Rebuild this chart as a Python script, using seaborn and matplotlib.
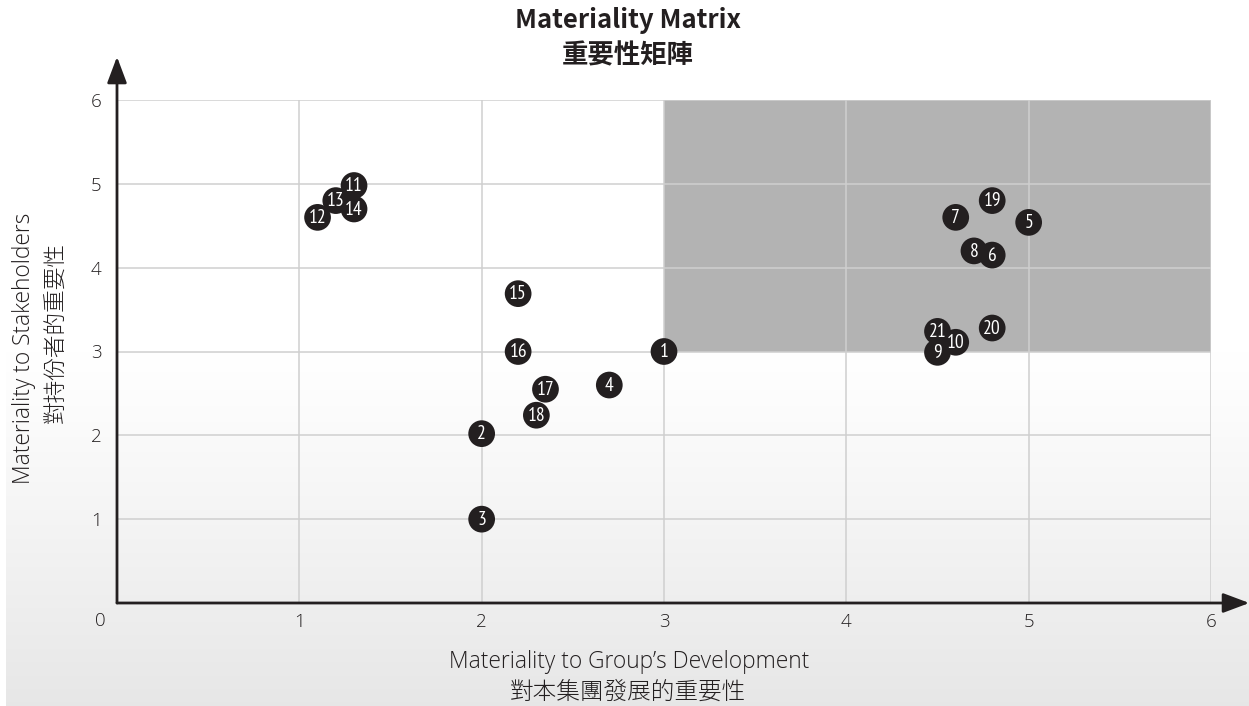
import numpy as np
import pandas as pd
import seaborn as sns
import matplotlib.pyplot as plt
from matplotlib.patches import Rectangle, FancyBboxPatch

issue_ids = [1, 2, 3, 4, 5, 6, 7, 8, 9, 10, 11, 12, 13, 14, 15, 16, 17, 18, 19, 20, 21]
group_dev = [3.0, 2.0, 2.0, 2.7, 5.0, 4.8, 4.6, 4.7, 4.5, 4.6, 1.3, 1.1, 1.2, 1.3,
             2.2, 2.2, 2.35, 2.3, 4.8, 4.8, 4.5]
stakeholders = [3.0, 2.02, 1.0, 2.6, 4.54, 4.15, 4.6, 4.2, 2.99, 3.11, 4.98, 4.6, 4.8, 4.7,
                3.69, 3.0, 2.55, 2.24, 4.8, 3.28, 3.24]
# draw order so the overlaps look like the original
draw_order = [1, 2, 3, 4, 5, 7, 8, 6, 19, 20, 21, 9, 10, 11, 13, 12, 14, 15, 16, 17, 18]
tick_vals = [1, 2, 3, 4, 5, 6]

DARK = "#231f20"
LATIN = ["Open Sans", "Noto Sans", "DejaVu Sans"]
CJK = ["Noto Sans CJK JP", "DejaVu Sans"]

sns.set_style("white")
plt.rcParams["font.family"] = CJK

df = pd.DataFrame({"id": issue_ids, "dev": group_dev, "stake": stakeholders})
df = df.set_index("id").loc[draw_order].reset_index()

W, H = 1249, 706
fig = plt.figure(figsize=(W / 100, H / 100), dpi=100)
fig.patch.set_facecolor("white")

# rounded panel with a soft grey gradient towards the bottom
bg = fig.add_axes([0, 0, 1, 1], zorder=-5)
bg.axis("off")
grad = np.linspace(0, 1, 400)
shade = np.clip((grad - 0.50) / 0.50, 0, 1) ** 1.1
img = np.ones((400, 2, 3)) * (1 - 0.095 * shade)[:, None, None]
im = bg.imshow(img, extent=[6, W, 0, H], origin="upper", aspect="auto")
panel = FancyBboxPatch((6, -40), W - 6, H + 20, boxstyle="round,pad=0,rounding_size=24",
                       transform=bg.transData, facecolor="none", edgecolor="none")
bg.add_patch(panel)
im.set_clip_path(panel)
bg.set_xlim(0, W)
bg.set_ylim(0, H)

ax = fig.add_axes([117 / W, (H - 603) / H, (1211 - 117) / W, (603 - 100) / H])
ax.patch.set_alpha(0)

# priority quadrant
ax.add_patch(Rectangle((3, 3), 3, 3, facecolor="#b3b3b3", edgecolor="none", zorder=1))

sns.scatterplot(data=df, x="dev", y="stake", s=370, color=DARK, edgecolor="none",
                linewidth=0, ax=ax, zorder=3, legend=False)
for _, r in df.iterrows():
    ax.text(r["dev"], r["stake"] - 0.01, str(int(r["id"])), color="white", fontsize=14,
            ha="center", va="center", zorder=4,
            family=["PT Sans Narrow", "Archivo Narrow", "DejaVu Sans"])

ax.set_xlim(0, 6)
ax.set_ylim(0, 6)
ax.set_xticks(tick_vals)
ax.set_yticks(tick_vals)
ax.set_xticklabels([str(t) for t in tick_vals], family=LATIN, fontweight="light")
ax.set_yticklabels([str(t) for t in tick_vals], family=LATIN, fontweight="light")
ax.tick_params(length=0, labelsize=13.5, labelcolor=DARK)
ax.tick_params(axis="x", pad=7)
ax.tick_params(axis="y", pad=11)
ax.set_axisbelow(False)
ax.grid(True, color="#cfcfcf", linewidth=1.1, zorder=2)
for sp in ax.spines.values():
    sp.set_visible(False)
ax.set_xlabel("")
ax.set_ylabel("")

# axis arrows
arrow = dict(arrowstyle="-|>,head_length=1.6,head_width=0.6", mutation_scale=10,
             color=DARK, lw=2, shrinkA=0, shrinkB=0)
ax.annotate("", xy=(0, 1.086), xytext=(0, 0), xycoords="axes fraction",
            textcoords="axes fraction", arrowprops=arrow, annotation_clip=False)
ax.annotate("", xy=(1.035, 0), xytext=(0, 0), xycoords="axes fraction",
            textcoords="axes fraction", arrowprops=arrow, annotation_clip=False)

fig.text(100 / W, 1 - 621 / H, "0", fontsize=13.5, color=DARK, ha="center", va="center",
         family=LATIN, fontweight="light")

# titles
fig.text(628 / W, 1 - 21 / H, "Materiality Matrix", fontsize=18.5, fontweight="bold",
         color=DARK, ha="center", va="center")
fig.text(628 / W, 1 - 56 / H, "重要性矩陣", fontsize=19, fontweight="bold",
         color=DARK, ha="center", va="center")

fig.text(629 / W, 1 - 662 / H, "Materiality to Group\u2019s Development", fontsize=16.4,
         color=DARK, ha="center", va="center", family=LATIN, fontweight="light")
fig.text(628 / W, 1 - 692 / H, "對本集團發展的重要性", fontsize=17,
         color=DARK, ha="center", va="center", fontweight=300)

fig.text(24 / W, 1 - 348 / H, "Materiality to Stakeholders", fontsize=16.4, rotation=90,
         color=DARK, ha="center", va="center", family=LATIN, fontweight="light")
fig.text(56 / W, 1 - 333 / H, "對持份者的重要性", fontsize=16.3, rotation=90,
         color=DARK, ha="center", va="center", fontweight=300)

fig.savefig("out.png", dpi=100)
